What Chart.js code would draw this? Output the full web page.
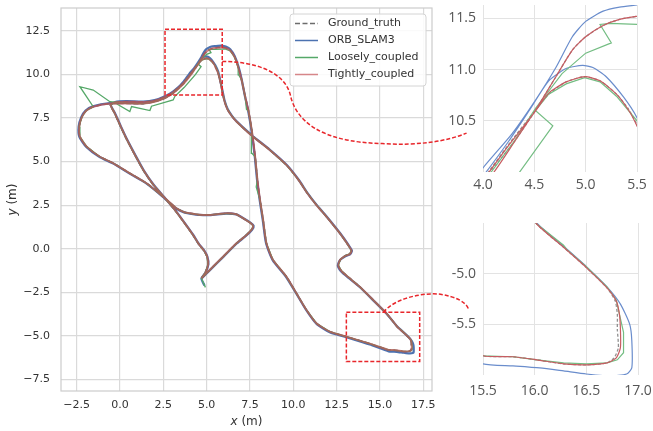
<!DOCTYPE html>
<html>
<head>
<meta charset="utf-8">
<script src="https://cdn.jsdelivr.net/npm/chart.js@4.4.1/dist/chart.umd.min.js"></script>
<style>
  html, body { margin: 0; padding: 0; background: #ffffff; }
  #wrap { position: relative; width: 653px; height: 431px; overflow: hidden; background: #ffffff; }
  #wrap canvas { position: absolute; }
</style>
</head>
<body>
<div id="wrap">
  <canvas id="main" width="653" height="431" style="left:0;top:0"></canvas>
  <canvas id="zoomTop" width="223" height="200" style="left:430px;top:0"></canvas>
  <canvas id="zoomBottom" width="223" height="231" style="left:430px;top:200px"></canvas>
</div>
<script>
// ---- trajectory data, [x, y] in metres ----
const SERIES_NAMES = ['Ground_truth', 'ORB_SLAM3', 'Loosely_coupled', 'Tightly_coupled'];

const groundTruth = [
  [4.70,-1.70],[4.92,-1.38],[5.08,-0.90],[5.02,-0.45],[4.85,-0.12],[4.55,0.25],[4.20,0.80],[3.70,1.50],[3.10,2.30],[2.50,3.00],[1.90,3.70],[1.35,4.50],[0.85,5.40],[0.40,6.25],[0.02,7.05],[-0.32,7.80],[-0.55,8.25],
  [-0.30,8.40],[0.38,8.44],[1.34,8.42],[2.00,8.50],[2.60,8.72],[3.10,9.02],[3.64,9.50],[4.00,9.93],[4.25,10.27],[4.50,10.59],[4.64,10.76],[4.81,10.88],[4.99,10.93],[5.14,10.89],[5.30,10.76],[5.42,10.61],[5.50,10.46],[5.66,10.10],[5.80,9.55],[5.90,9.05],[6.02,8.50],[6.20,8.00],[6.45,7.62],[6.72,7.30],[7.20,6.85],[7.68,6.43],[8.64,5.67],[9.60,4.81],[10.30,3.95],[10.80,3.20],[11.30,2.55],[11.91,1.84],[12.68,0.89],[13.15,0.22],[13.35,-0.12],[13.25,-0.30],[13.00,-0.40],[12.72,-0.62],[12.60,-0.95],[12.80,-1.30],[13.20,-1.65],[13.83,-2.18],[14.60,-2.94],[15.37,-3.71],
  [16.02,-4.51],[16.28,-4.74],[16.50,-4.94],[16.70,-5.14],[16.78,-5.27],[16.80,-5.40],[16.80,-5.55],[16.81,-5.73],[16.77,-5.83],[16.70,-5.88],[16.50,-5.90],[16.28,-5.89],[16.02,-5.85],[15.79,-5.82],[15.50,-5.81],
  [14.41,-5.45],[13.06,-5.05],[12.10,-4.76],[11.33,-4.28],[10.76,-3.52],[10.18,-2.56],[9.60,-1.60],[8.83,-0.65],[8.45,0.31],[8.26,1.65],[8.08,2.80],[7.93,3.95],[7.80,5.28],[7.62,6.70],[7.42,7.90],[7.22,8.75],[7.02,9.69],[6.83,10.40],[6.62,11.00],[6.36,11.38],[6.10,11.52],[5.86,11.56],[5.65,11.55],
  [5.50,11.52],[5.33,11.49],[5.17,11.43],[5.00,11.32],[4.87,11.19],[4.71,10.93],[4.51,10.60],[4.30,10.29],[4.06,9.99],[3.64,9.45],[3.10,8.95],[2.60,8.65],[2.00,8.44],[1.34,8.33],[0.38,8.34],[-0.58,8.33],[-1.54,8.15],[-1.95,7.92],[-2.20,7.55],[-2.35,7.01],[-2.31,6.43],[-1.92,5.86],[-1.16,5.28],[-0.40,4.92],[0.57,4.33],[1.53,3.76],[2.49,2.99],[3.26,2.32],[3.70,2.10],[4.03,2.03],[4.60,1.95],[5.18,1.94],[6.15,2.03],[6.70,1.98],[7.10,1.75],[7.50,1.50],[7.68,1.32],[7.60,1.10],[7.20,0.70],[6.72,0.31],[5.95,-0.46],[5.18,-1.22],[4.70,-1.70]
];

const orbSlam3 = [
  [4.88,-2.12],[4.70,-1.72],[4.93,-1.38],[5.10,-0.90],[5.04,-0.45],[4.87,-0.12],[4.57,0.25],[4.22,0.80],[3.72,1.50],[3.12,2.30],[2.52,3.00],[1.92,3.70],[1.37,4.50],[0.87,5.40],[0.42,6.25],[0.04,7.05],[-0.30,7.80],[-0.53,8.26],
  [-0.28,8.42],[0.38,8.47],[1.34,8.45],[2.00,8.53],[2.60,8.75],[3.10,9.05],[3.64,9.52],[4.00,9.96],[4.25,10.30],[4.45,10.60],[4.64,10.89],[4.81,11.01],[4.97,11.04],[5.07,11.02],[5.20,10.93],[5.37,10.73],[5.50,10.53],[5.66,10.18],[5.80,9.60],[5.91,9.08],[6.03,8.52],[6.21,8.02],[6.46,7.63],[6.73,7.31],[7.21,6.86],[7.69,6.44],[8.65,5.68],[9.61,4.82],[10.31,3.96],[10.81,3.21],[11.31,2.56],[11.92,1.85],[12.69,0.90],[13.17,0.23],[13.38,-0.12],[13.27,-0.32],[13.00,-0.43],[12.70,-0.64],[12.57,-0.97],[12.78,-1.33],[13.19,-1.68],[13.83,-2.20],[14.60,-2.95],[15.37,-3.72],
  [16.02,-4.50],[16.28,-4.73],[16.50,-4.93],[16.70,-5.13],[16.83,-5.30],[16.92,-5.50],[16.94,-5.66],[16.94,-5.93],[16.89,-5.99],[16.73,-6.01],[16.50,-5.99],[16.28,-5.96],[16.05,-5.93],[15.79,-5.91],[15.50,-5.89],
  [14.41,-5.50],[13.06,-5.08],[12.10,-4.79],[11.33,-4.30],[10.75,-3.53],[10.17,-2.57],[9.58,-1.61],[8.81,-0.66],[8.43,0.31],[8.24,1.65],[8.06,2.80],[7.91,3.95],[7.78,5.28],[7.60,6.70],[7.40,7.90],[7.21,8.76],[7.02,9.72],[6.84,10.44],[6.62,11.05],[6.36,11.45],[6.10,11.60],[5.86,11.66],[5.65,11.65],
  [5.50,11.63],[5.33,11.61],[5.17,11.57],[5.00,11.47],[4.87,11.32],[4.71,11.02],[4.51,10.70],[4.28,10.37],[4.00,10.04],[3.64,9.55],[3.10,8.99],[2.60,8.68],[2.00,8.47],[1.34,8.36],[0.38,8.37],[-0.58,8.36],[-1.56,8.17],[-1.98,7.93],[-2.23,7.55],[-2.38,7.01],[-2.34,6.42],[-1.94,5.84],[-1.17,5.26],[-0.41,4.90],[0.56,4.31],[1.52,3.75],[2.48,2.98],[3.25,2.31],[3.70,2.09],[4.03,2.02],[4.60,1.94],[5.18,1.93],[6.15,2.02],[6.71,1.97],[7.12,1.75],[7.52,1.50],[7.71,1.32],[7.62,1.09],[7.21,0.69],[6.73,0.30],[5.96,-0.47],[5.19,-1.23],[4.71,-1.71]
];

const looselyCoupled = [
  [4.93,-2.22],[4.70,-1.70],[4.92,-1.38],[5.08,-0.90],[5.02,-0.45],[4.85,-0.12],[4.55,0.25],[4.20,0.80],[3.70,1.50],[3.10,2.30],[2.50,3.00],[1.90,3.70],[1.35,4.50],[0.85,5.40],[0.40,6.25],[0.02,7.05],[-0.32,7.80],[-0.55,8.25],
  [-0.30,8.38],[0.57,7.87],[0.67,8.16],[1.73,7.93],[1.82,8.18],[3.07,8.54],[3.17,8.75],[3.70,9.25],[4.35,9.99],[4.68,10.45],[4.51,10.60],[4.64,10.76],[4.81,10.86],[4.99,10.92],[5.14,10.88],[5.30,10.74],[5.50,10.50],[5.66,10.12],[5.80,9.56],[5.90,9.05],[6.02,8.50],[6.20,8.00],[6.45,7.62],[6.72,7.30],[7.20,6.85],[7.68,6.43],[8.64,5.67],[9.60,4.81],[10.30,3.95],[10.80,3.20],[11.30,2.55],[11.91,1.84],[12.68,0.89],[13.15,0.22],[13.35,-0.12],[13.25,-0.30],[13.00,-0.40],[12.72,-0.62],[12.60,-0.95],[12.80,-1.30],[13.20,-1.65],[13.83,-2.18],[14.60,-2.94],[15.37,-3.71],
  [16.02,-4.51],[16.28,-4.72],[16.31,-4.76],[16.50,-4.93],[16.70,-5.13],[16.79,-5.26],[16.82,-5.40],[16.86,-5.58],[16.86,-5.78],[16.80,-5.85],[16.70,-5.88],[16.50,-5.89],[16.28,-5.88],[16.02,-5.85],[15.79,-5.82],[15.50,-5.81],
  [14.41,-5.45],[13.06,-5.05],[12.10,-4.76],[11.33,-4.28],[10.76,-3.52],[10.18,-2.56],[9.60,-1.60],[8.83,-0.65],[8.45,0.31],[8.26,1.65],[8.08,2.80],[7.86,3.55],[7.93,3.95],[7.80,5.28],[7.61,5.48],[7.58,6.43],[7.64,6.62],[7.42,7.90],[7.30,8.00],[7.22,8.75],[7.02,9.69],[6.85,9.98],[6.82,10.42],[6.62,10.98],[6.36,11.36],[6.10,11.46],[5.86,11.46],
  [5.50,11.44],[5.24,11.45],[5.14,11.44],[5.25,11.26],[5.00,11.16],[4.77,10.96],[4.51,10.62],[4.31,10.31],[4.08,10.00],[3.64,9.45],[3.10,8.95],[2.60,8.65],[2.00,8.44],[1.34,8.33],[0.38,8.36],[-0.58,8.44],[-1.54,9.11],[-2.31,9.30],[-1.54,8.15],[-1.95,7.92],[-2.20,7.55],[-2.35,7.01],[-2.31,6.43],[-1.92,5.86],[-1.16,5.28],[-0.40,4.92],[0.57,4.33],[1.53,3.76],[2.49,2.99],[3.26,2.32],[3.70,2.10],[4.03,2.03],[4.60,1.95],[5.18,1.94],[6.15,2.03],[6.70,1.98],[7.10,1.75],[7.50,1.50],[7.68,1.32],[7.60,1.10],[7.20,0.70],[6.72,0.31],[5.95,-0.46],[5.18,-1.22],[4.70,-1.70]
];

const tightlyCoupled = [
  [4.71,-1.69],[4.93,-1.37],[5.09,-0.90],[5.03,-0.45],[4.86,-0.12],[4.56,0.25],[4.21,0.80],[3.71,1.50],[3.11,2.30],[2.51,3.00],[1.91,3.70],[1.36,4.50],[0.86,5.40],[0.41,6.25],[0.03,7.05],[-0.31,7.80],[-0.54,8.25],
  [-0.29,8.40],[0.38,8.44],[1.34,8.42],[2.00,8.50],[2.60,8.71],[3.10,9.01],[3.64,9.49],[4.00,9.92],[4.25,10.26],[4.50,10.58],[4.64,10.77],[4.81,10.88],[4.99,10.93],[5.14,10.89],[5.30,10.76],[5.42,10.60],[5.50,10.45],[5.66,10.09],[5.80,9.55],[5.90,9.05],[6.02,8.50],[6.20,8.00],[6.45,7.62],[6.72,7.30],[7.20,6.85],[7.68,6.43],[8.64,5.67],[9.60,4.81],[10.30,3.95],[10.80,3.20],[11.30,2.55],[11.91,1.84],[12.68,0.89],[13.16,0.22],[13.36,-0.12],[13.26,-0.31],[13.00,-0.41],[12.71,-0.63],[12.59,-0.96],[12.80,-1.31],[13.20,-1.66],[13.83,-2.19],[14.60,-2.94],[15.37,-3.71],
  [16.02,-4.51],[16.28,-4.74],[16.50,-4.94],[16.70,-5.14],[16.79,-5.27],[16.82,-5.40],[16.83,-5.55],[16.83,-5.73],[16.79,-5.83],[16.70,-5.88],[16.50,-5.90],[16.28,-5.89],[16.02,-5.85],[15.79,-5.82],[15.50,-5.81],
  [14.41,-5.45],[13.06,-5.05],[12.10,-4.76],[11.33,-4.28],[10.76,-3.52],[10.18,-2.56],[9.60,-1.60],[8.83,-0.65],[8.45,0.31],[8.26,1.65],[8.08,2.80],[7.93,3.95],[7.80,5.28],[7.62,6.70],[7.42,7.90],[7.22,8.75],[7.02,9.69],[6.83,10.40],[6.62,11.00],[6.36,11.38],[6.10,11.52],[5.86,11.55],[5.65,11.54],
  [5.50,11.52],[5.33,11.49],[5.17,11.43],[5.00,11.32],[4.87,11.19],[4.71,10.93],[4.51,10.60],[4.31,10.30],[4.10,9.99],[3.66,9.45],[3.10,8.95],[2.60,8.65],[2.00,8.44],[1.34,8.33],[0.38,8.34],[-0.58,8.33],[-1.54,8.15],[-1.95,7.92],[-2.20,7.55],[-2.35,7.01],[-2.31,6.43],[-1.92,5.86],[-1.16,5.28],[-0.40,4.92],[0.57,4.33],[1.53,3.76],[2.49,2.99],[3.26,2.32],[3.70,2.10],[4.03,2.03],[4.60,1.95],[5.18,1.94],[6.15,2.03],[6.70,1.98],[7.10,1.75],[7.50,1.50],[7.68,1.32],[7.60,1.10],[7.20,0.70],[6.72,0.31],[5.95,-0.46],[5.18,-1.22],[4.70,-1.70]
];

// ---- axes ----
const MAIN_X_RANGE = [-3.4, 18.0];
const MAIN_Y_RANGE = [-8.17, 13.82];
const MAIN_X_TICKS = [-2.5, 0, 2.5, 5, 7.5, 10, 12.5, 15, 17.5];
const MAIN_Y_TICKS = [-7.5, -5, -2.5, 0, 2.5, 5, 7.5, 10, 12.5];

const TOP_X_RANGE = [4.0, 5.5];
const TOP_Y_RANGE = [10.0, 11.63];
const TOP_X_TICKS = [4.0, 4.5, 5.0, 5.5];
const TOP_Y_TICKS = [10.5, 11.0, 11.5];

const BOTTOM_X_RANGE = [15.5, 17.0];
const BOTTOM_Y_RANGE = [-6.0, -4.5];
const BOTTOM_X_TICKS = [15.5, 16.0, 16.5, 17.0];
const BOTTOM_Y_TICKS = [-5.5, -5.0];

// highlighted regions on the overview: [xMin, xMax, yMin, yMax]
const zoomBoxes = [
  [2.6, 5.9, 8.83, 12.6],
  [13.06, 17.29, -6.48, -3.65]
];

// ---- styling ----
const TEXT = '#333333';
const GRID = '#dadada';
const FRAME = '#cccccc';
const RED_MARK = '#e8262b';

const MAIN_STYLE = [
  { color: '#6c6c6c', width: 1.6, dash: [5, 2.5], order: 2 },
  { color: '#4c72b0', width: 2.3, order: 3 },
  { color: '#55a868', width: 1.3, order: 1 },
  { color: 'rgba(196,78,82,0.68)', width: 2.0, order: 0 }
];
const INSET_STYLE = [
  { color: '#909090', width: 1.3, dash: [3, 2], order: 3 },
  { color: '#6a8dcc', width: 1.2, order: 2 },
  { color: '#74bd83', width: 1.2, order: 1 },
  { color: '#c75c61', width: 1.2, order: 0 }
];

function makeDatasets(style) {
  const series = [groundTruth, orbSlam3, looselyCoupled, tightlyCoupled];
  return series.map((pts, i) => ({
    label: SERIES_NAMES[i],
    data: pts.map(p => ({ x: p[0], y: p[1] })),
    showLine: true,
    fill: false,
    pointRadius: 0,
    pointHoverRadius: 0,
    borderColor: style[i].color,
    backgroundColor: style[i].color,
    borderWidth: style[i].width,
    borderDash: style[i].dash || [],
    tension: i === 2 ? 0 : 0.2,
    clip: 0,
    order: style[i].order
  }));
}

const fmtMain = v => (v < 0 ? '\u2212' : '') + Math.abs(v).toFixed(1);
const fmtInset = v => v.toFixed(1);

function fixedTicks(list) {
  return s => { s.ticks = list.map(v => ({ value: v })); };
}

// ---- zoomed views ----
function makeInset(id, xr, yr, xt, yt, pad, xAxisHeight, xPad) {
  const font = { family: 'Open Sans', size: 14 };
  return new Chart(document.getElementById(id), {
    type: 'scatter',
    data: { datasets: makeDatasets(INSET_STYLE) },
    options: {
      responsive: false, animation: false, devicePixelRatio: 1, events: [],
      layout: { padding: pad },
      plugins: { legend: { display: false }, tooltip: { enabled: false } },
      scales: {
        x: {
          type: 'linear', bounds: 'data', min: xr[0], max: xr[1],
          afterBuildTicks: fixedTicks(xt),
          afterFit: s => { s.height = xAxisHeight; s.paddingLeft = 0; s.paddingRight = 0; },
          ticks: { callback: fmtInset, autoSkip: false, maxRotation: 0, padding: xPad, color: '#555555', font },
          grid: { color: '#e3e3e3', lineWidth: 1, drawTicks: false },
          border: { display: false }
        },
        y: {
          type: 'linear', bounds: 'data', min: yr[0], max: yr[1],
          afterBuildTicks: fixedTicks(yt),
          afterFit: s => { s.width = 53; s.paddingTop = 0; s.paddingBottom = 0; },
          ticks: { callback: fmtInset, autoSkip: false, padding: 7, color: '#555555', font },
          grid: { color: '#e3e3e3', lineWidth: 1, drawTicks: false },
          border: { display: false }
        }
      }
    }
  });
}

const topInset = makeInset('zoomTop', TOP_X_RANGE, TOP_Y_RANGE, TOP_X_TICKS, TOP_Y_TICKS,
  { left: 0, top: 5, right: 16, bottom: 0 }, 28, 5);
const bottomInset = makeInset('zoomBottom', BOTTOM_X_RANGE, BOTTOM_Y_RANGE, BOTTOM_X_TICKS, BOTTOM_Y_TICKS,
  { left: 0, top: 23, right: 15, bottom: 0 }, 56, 8);

// ---- overview decorations: frame, legend, axis titles, zoom boxes, connectors ----
function drawLegend(chart) {
  const { ctx, chartArea: a } = chart;
  const w = 136, h = 72;
  const left = a.right - w - 6, top = a.top + 6;
  ctx.save();
  ctx.beginPath();
  ctx.roundRect(left, top, w, h, 3);
  ctx.fillStyle = 'rgba(255,255,255,0.85)';
  ctx.fill();
  ctx.strokeStyle = '#d4d4d4';
  ctx.lineWidth = 1;
  ctx.stroke();
  ctx.font = '11px "DejaVu Sans"';
  ctx.textBaseline = 'middle';
  chart.data.datasets.forEach((d, i) => {
    const y = top + 9.5 + i * 17;
    ctx.beginPath();
    ctx.setLineDash(d.borderDash);
    ctx.strokeStyle = d.borderColor;
    ctx.lineWidth = 1.5;
    ctx.moveTo(left + 5, y);
    ctx.lineTo(left + 28, y);
    ctx.stroke();
    ctx.setLineDash([]);
    ctx.fillStyle = TEXT;
    ctx.fillText(d.label, left + 38, y);
  });
  ctx.restore();
}

function drawTitles(chart) {
  const { ctx, chartArea: a } = chart;
  const parts = (sym) => [['italic 12px "DejaVu Sans"', sym], ['12px "DejaVu Sans"', ' (m)']];
  function draw(list) {
    let total = 0;
    list.forEach(p => { ctx.font = p[0]; total += ctx.measureText(p[1]).width; });
    let x = -total / 2;
    list.forEach(p => { ctx.font = p[0]; ctx.fillText(p[1], x, 0); x += ctx.measureText(p[1]).width; });
  }
  ctx.save();
  ctx.fillStyle = TEXT;
  ctx.textBaseline = 'middle';
  ctx.textAlign = 'left';
  ctx.save();
  ctx.translate((a.left + a.right) / 2, 422);
  draw(parts('x'));
  ctx.restore();
  ctx.save();
  ctx.translate(13, (a.top + a.bottom) / 2);
  ctx.rotate(-Math.PI / 2);
  draw(parts('y'));
  ctx.restore();
  ctx.restore();
}

function insetPoint(inset, canvasId, x, y) {
  const c = document.getElementById(canvasId);
  return {
    x: c.offsetLeft + inset.scales.x.getPixelForValue(x),
    y: c.offsetTop + inset.scales.y.getPixelForValue(y)
  };
}

function drawZoomMarks(chart) {
  const { ctx } = chart;
  const sx = chart.scales.x, sy = chart.scales.y;
  ctx.save();
  ctx.strokeStyle = RED_MARK;
  ctx.lineWidth = 1.5;
  ctx.setLineDash([4, 2]);
  zoomBoxes.forEach(b => {
    const l = sx.getPixelForValue(b[0]), r = sx.getPixelForValue(b[1]);
    const t = sy.getPixelForValue(b[3]), btm = sy.getPixelForValue(b[2]);
    ctx.strokeRect(l, t, r - l, btm - t);
  });

  // upper box -> upper zoom view
  const s1 = { x: sx.getPixelForValue(zoomBoxes[0][1]), y: sy.getPixelForValue(10.75) };
  const e1 = insetPoint(topInset, 'zoomTop', 3.84, 10.38);
  ctx.beginPath();
  ctx.moveTo(s1.x, s1.y);
  ctx.bezierCurveTo(s1.x + 32, s1.y, s1.x + 62, s1.y + 10, s1.x + 68, s1.y + 33);
  ctx.bezierCurveTo(s1.x + 73, s1.y + 58, s1.x + 97, s1.y + 81, s1.x + 160, s1.y + 82);
  ctx.bezierCurveTo(e1.x - 49, e1.y + 13, e1.x - 19, e1.y + 8, e1.x, e1.y);
  ctx.stroke();

  // lower box -> lower zoom view
  const s2 = { x: sx.getPixelForValue(15.2), y: sy.getPixelForValue(zoomBoxes[1][3]) };
  const e2 = insetPoint(bottomInset, 'zoomBottom', 15.36, -5.35);
  ctx.beginPath();
  ctx.moveTo(s2.x, s2.y);
  ctx.bezierCurveTo(s2.x + 12, s2.y - 15, s2.x + 42, s2.y - 20, s2.x + 57, s2.y - 18);
  ctx.bezierCurveTo(e2.x - 14, e2.y - 12.5, e2.x - 3, e2.y - 8, e2.x, e2.y);
  ctx.stroke();
  ctx.restore();
}

const overviewDecor = {
  id: 'overviewDecor',
  beforeDatasetsDraw(chart) {
    const { ctx, chartArea: a } = chart;
    ctx.save();
    ctx.strokeStyle = FRAME;
    ctx.lineWidth = 1.2;
    ctx.strokeRect(a.left, a.top, a.right - a.left, a.bottom - a.top);
    ctx.restore();
  },
  afterDraw(chart) {
    drawLegend(chart);
    drawTitles(chart);
    drawZoomMarks(chart);
  }
};

// ---- overview ----
new Chart(document.getElementById('main'), {
  type: 'scatter',
  data: { datasets: makeDatasets(MAIN_STYLE) },
  options: {
    responsive: false, animation: false, devicePixelRatio: 1, events: [],
    layout: { padding: { left: 0, top: 8, right: 221, bottom: 0 } },
    plugins: { legend: { display: false }, tooltip: { enabled: false } },
    scales: {
      x: {
        type: 'linear', bounds: 'data', min: MAIN_X_RANGE[0], max: MAIN_X_RANGE[1],
        afterBuildTicks: fixedTicks(MAIN_X_TICKS),
        afterFit: s => { s.height = 40; s.paddingLeft = 0; s.paddingRight = 0; },
        ticks: { callback: fmtMain, autoSkip: false, maxRotation: 0, padding: 8, color: TEXT, font: { family: 'DejaVu Sans', size: 11 } },
        grid: { color: GRID, lineWidth: 1.2, drawTicks: false },
        border: { display: false }
      },
      y: {
        type: 'linear', bounds: 'data', min: MAIN_Y_RANGE[0], max: MAIN_Y_RANGE[1],
        afterBuildTicks: fixedTicks(MAIN_Y_TICKS),
        afterFit: s => { s.width = 61; s.paddingTop = 0; s.paddingBottom = 0; },
        ticks: { callback: fmtMain, autoSkip: false, padding: 11, color: TEXT, font: { family: 'DejaVu Sans', size: 11 } },
        grid: { color: GRID, lineWidth: 1.2, drawTicks: false },
        border: { display: false }
      }
    }
  },
  plugins: [overviewDecor]
});
</script>
</body>
</html>
